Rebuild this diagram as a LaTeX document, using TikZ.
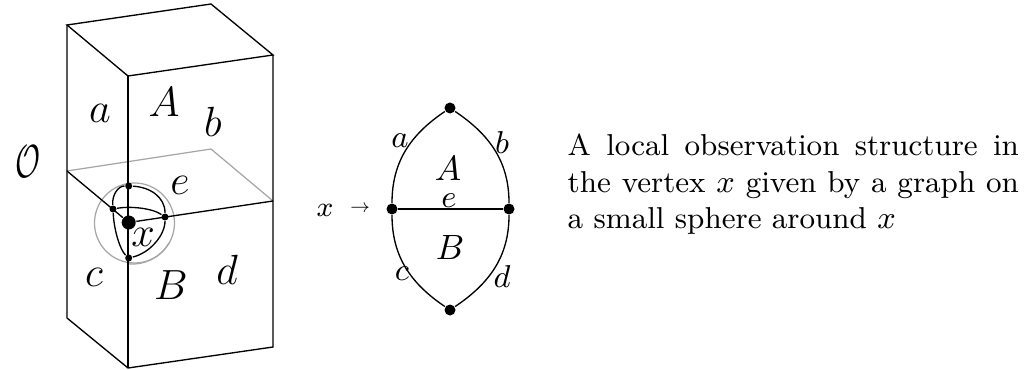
\documentclass[tikz,border=0pt]{standalone}
\usepackage{amsmath,amssymb}
\usetikzlibrary{positioning}

\begin{document}
\begin{tikzpicture}[x=0.01cm,y=-0.01cm,
  dot/.style={circle,fill=black,inner sep=0pt,minimum size=0.07cm},
  bigdot/.style={circle,fill=black,inner sep=0pt,minimum size=0.14cm},
  meddot/.style={circle,fill=black,inner sep=0pt,minimum size=0.11cm},
  biglbl/.style={inner sep=0pt,font=\fontsize{12.5}{15}\selectfont},
  lbl/.style={inner sep=0pt,font=\fontsize{9}{11}\selectfont},
  ghost/.style={draw=black!35,line width=0.35pt},
  edge/.style={draw=black,line width=0.38pt}
]
\useasboundingbox (0,0) rectangle (1025,370);
% corners of the two stacked boxes
\coordinate (tl) at (67,25);
\coordinate (tb) at (211,4);
\coordinate (tr) at (273,55);
\coordinate (tf) at (128,76);
\coordinate (ml) at (67,171);
\coordinate (mb) at (211,149);
\coordinate (mr) at (273,201);
\coordinate (bl) at (67,318);
\coordinate (br) at (273,347);
\coordinate (bf) at (128,368);

% small sphere
\coordinate (sph) at (134.5,223);
\draw[ghost] (sph) circle (40);
\draw[ghost] (169,243) .. controls (160,258) and (145,265) .. (129,264);
\draw[ghost] (ml) -- (mb) -- (mr);

\node[bigdot] (xc) at (128.7,222.5) {};
\node[dot] (st) at (128.7,186) {};
\node[dot] (sl) at (113,209) {};
\node[dot] (sr) at (165,217) {};
\node[dot] (sb) at (128.7,258) {};

\draw[edge] (tl) -- (tb) -- (tr) -- (tf) -- cycle;
\draw[edge] (tl) -- (bl) -- (bf) -- (br) -- (tr);
\draw[edge] (tf) -- (bf);
\draw[edge] (ml) -- (xc) -- (mr);

\draw[edge] (st) .. controls (118,186) and (112,195) .. (sl);
\draw[edge] (sl) .. controls (114,230) and (120,250) .. (sb);
\draw[edge] (st) .. controls (150,187) and (165,197) .. (sr);
\draw[edge] (sr) .. controls (165,235) and (150,253) .. (sb);
\draw[edge] (sl) .. controls (130,206) and (152,208) .. (sr);

\node[biglbl] (lo) at (28,162) {\scalebox{0.72}[1.1]{$\mathcal{O}$}};
\node[biglbl] (la) at (100,113) {$a$};
\node[biglbl] (lA) at (164,102) {$A$};
\node[biglbl] (lb) at (213,122) {$b$};
\node[biglbl] (le) at (180,185) {$e$};
\node[biglbl] (lx) at (143,237) {$x$};
\node[biglbl] (lc) at (94,277) {$c$};
\node[biglbl] (lB) at (171,285) {$B$};
\node[biglbl] (ld) at (227,270) {$d$};

% the graph on the sphere
\node[meddot] (gt) at (450,108) {};
\node[meddot] (gl) at (392,209) {};
\node[meddot] (gr) at (509,209) {};
\node[meddot] (gb) at (450,310) {};

\draw[edge] (gt) to[out=214,in=90] (gl);
\draw[edge] (gt) to[out=-34,in=90] (gr);
\draw[edge] (gb) to[out=146,in=-90] (gl);
\draw[edge] (gb) to[out=34,in=-90] (gr);
\draw[edge] (gl) -- (gr);

\node[lbl,font=\fontsize{8}{10}\selectfont] (gx) at (325,210) {$x$};
\node[lbl] (garrow) at (360,208.5) {\scalebox{0.6}{$\rightarrow$}};
\node[lbl] (ga) at (400,141) {$a$};
\node[lbl] (gbb) at (502,143) {$b$};
\node[lbl,font=\fontsize{10}{12}\selectfont] (gA) at (448,168) {$A$};
\node[lbl,anchor=south] (ge) at (449,208) {$e$};
\node[lbl,font=\fontsize{10}{12}\selectfont] (gB) at (450,247) {$B$};
\node[lbl] (gc) at (402,274) {$c$};
\node[lbl] (gd) at (502,277) {$d$};

\node[anchor=west,inner sep=0pt,align=left,font=\fontsize{8.6}{10.4}\selectfont] (cap) at (567,184.5)
  {\makebox[4.51cm][s]{A local observation structure in}\\\makebox[4.51cm][s]{the vertex $x$ given by a graph on}\\a small sphere around $x$};
\end{tikzpicture}
\end{document}
